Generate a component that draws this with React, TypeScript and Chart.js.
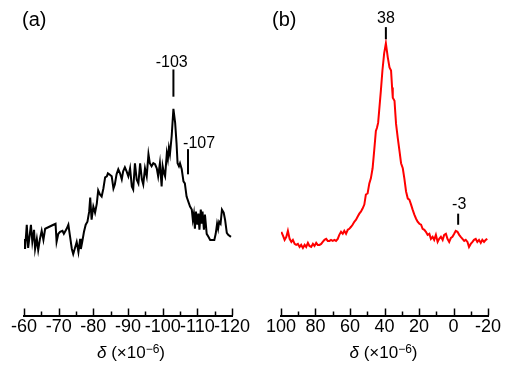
import React, { useEffect, useRef } from 'react';
import { Chart, registerables } from 'chart.js';

Chart.register(...registerables);

const FONT = "'Liberation Sans', Arial, sans-serif";

// Panel (a): chemical shift (×10^-6) and relative intensity
const deltaA = [
  -60.1, -60.3, -60.8, -61.2, -62.0, -62.4, -62.9, -63.2, -63.7, -64.1,
  -64.6, -65.1, -65.6, -66.1, -68.5, -69.1, -69.4, -69.9, -70.4, -71.1,
  -71.5, -72.3, -72.8, -73.3, -73.8, -74.2, -74.7, -75.2, -75.7, -76.2,
  -76.4, -76.8, -77.3, -77.8, -78.3, -78.8, -79.1, -79.5, -80.0, -80.5,
  -81.0, -81.4, -81.9, -82.4, -82.9, -83.4, -83.9, -84.2, -84.6, -85.3,
  -85.8, -86.2, -86.7, -87.2, -87.7, -88.2, -88.6, -89.1, -89.6, -90.1,
  -90.6, -91.1, -91.5, -92.0, -92.5, -93.0, -93.5, -94.0, -94.4, -94.9,
  -95.4, -95.9, -96.3, -96.8, -97.3, -97.8, -98.3, -98.7, -99.2, -99.7,
  -100.0, -100.4, -100.7, -101.2, -101.5, -101.8, -102.1, -102.6, -103.1, -103.6,
  -104.0, -104.3, -104.7, -105.0, -105.5, -106.0, -106.4, -106.9, -107.4, -107.9,
  -108.4, -108.7, -109.0, -109.3, -109.6, -110.0, -110.3, -110.6, -111.0, -111.3,
  -111.5, -111.9, -112.2, -112.7, -113.2, -113.7, -114.3, -114.9, -115.3, -115.7,
  -116.0, -116.3, -116.7, -117.1, -117.6, -118.0, -118.5, -118.9, -119.7,
];
const intensityA = [
  76, 66, 90, 67, 90, 73, 85, 66, 76, 65,
  76, 84, 75, 86, 90, 91, 73, 81, 83, 84,
  81, 86, 90, 78, 66, 61, 67, 73, 63, 76,
  66, 73, 83, 90, 93, 103, 117, 95, 108, 102,
  111, 124, 120, 118, 126, 137, 138, 141, 140, 138,
  126, 130, 140, 145, 141, 135, 143, 147, 143, 138,
  146, 128, 125, 151, 135, 131, 151, 135, 130, 146,
  138, 160, 151, 148, 151, 150, 146, 138, 151, 128,
  148, 141, 138, 161, 155, 166, 160, 178, 205, 191,
  171, 151, 148, 151, 145, 133, 131, 118, 113, 108,
  105, 95, 101, 86, 103, 90, 101, 85, 105, 91,
  103, 85, 100, 81, 78, 75, 75, 75, 81, 91,
  86, 93, 91, 105, 102, 95, 82, 80, 78,
];

// Panel (b)
const deltaB = [
  99.8, 98.8, 97.9, 96.9, 96.0, 95.0, 94.0, 93.1, 92.1, 91.2,
  90.2, 89.2, 88.3, 87.3, 86.3, 85.4, 84.4, 83.5, 82.5, 81.5,
  80.6, 79.6, 78.7, 77.7, 76.7, 75.8, 74.8, 73.8, 72.9, 71.9,
  71.0, 70.0, 69.0, 68.1, 67.1, 66.2, 65.2, 64.2, 63.3, 62.3,
  61.3, 60.4, 59.4, 58.5, 57.5, 56.5, 55.6, 54.6, 53.7, 52.7,
  51.7, 50.8, 49.8, 48.8, 47.9, 46.9, 46.0, 45.0, 44.4, 43.7,
  43.1, 42.1, 41.2, 40.2, 39.2, 38.1, 37.1, 36.2, 35.6, 35.2,
  34.2, 33.7, 33.3, 32.3, 31.3, 30.4, 29.4, 28.5, 27.5, 26.5,
  25.6, 24.6, 23.7, 22.7, 21.7, 20.8, 19.8, 18.8, 17.9, 16.9,
  16.0, 15.0, 14.0, 13.1, 12.1, 11.2, 10.2, 9.2, 8.3, 7.3,
  6.3, 5.4, 4.4, 3.5, 2.5, 1.5, 0.6, -0.4, -1.3, -2.3,
  -3.3, -4.2, -5.2, -6.2, -7.1, -8.1, -9.0, -10.0, -11.0, -11.9,
  -12.9, -13.8, -14.8, -15.8, -16.7, -17.7, -18.7, -19.6,
];
const intensityB = [
  83, 79, 75, 78, 84, 76, 73, 75, 71, 70,
  71, 68, 70, 67, 70, 68, 72, 69, 68, 71,
  69, 72, 70, 70, 71, 73, 75, 76, 74, 74,
  75, 74, 75, 74, 76, 80, 83, 81, 84, 81,
  85, 86, 88, 90, 93, 95, 98, 101, 103, 106,
  110, 120, 121, 131, 136, 146, 163, 183, 186, 191,
  203, 223, 243, 260, 270, 256, 246, 243, 226, 216,
  213, 200, 190, 176, 163, 151, 146, 136, 123, 116,
  115, 110, 105, 100, 96, 93, 91, 90, 86, 85,
  83, 80, 81, 76, 78, 75, 80, 73, 76, 78,
  75, 80, 81, 76, 73, 77, 78, 81, 84, 83,
  80, 78, 76, 74, 75, 73, 68, 71, 73, 75,
  76, 73, 75, 72, 75, 73, 75, 76,
];

// Axis ranges and tick labels
const axisA = { min: -120, max: -60, step: 5, labelEvery: 10 };
const axisB = { min: -20, max: 100, step: 10, labelEvery: 20 };

// Peak annotations: label, shift position
const peaksA = [
  { label: '-103', at: -103.1, textAt: -102.6, align: 'center', lineTop: 244, lineBottom: 217, textBase: 246 },
  { label: '-107', at: -107.3, textAt: -105.9, align: 'left', lineTop: 165, lineBottom: 140, textBase: 166 },
];
const peaksB = [
  { label: '38', at: 39.2, textAt: 39.2, align: 'center', lineTop: 286, lineBottom: 274, textBase: 290 },
  { label: '-3', at: -2.7, textAt: -3.3, align: 'center', lineTop: 101, lineBottom: 90, textBase: 106 },
];

function makeDecor(panel: string, peaks: any[], labelEvery: number, titleShift: number) {
  return {
    id: 'decor' + panel,
    afterDraw(chart: any) {
      const ctx = chart.ctx;
      const xs = chart.scales.x;
      const ys = chart.scales.y;
      const bottom = chart.chartArea.bottom;
      ctx.save();
      // upward tick marks
      ctx.strokeStyle = '#000';
      ctx.lineWidth = 1.5;
      xs.ticks.forEach((t: any) => {
        const px = Math.round(xs.getPixelForValue(t.value)) + 0.5;
        const major = Math.abs(t.value % labelEvery) < 1e-6;
        ctx.beginPath();
        ctx.moveTo(px, bottom);
        ctx.lineTo(px, bottom - (major ? 7 : 4));
        ctx.stroke();
      });
      // peak annotations
      ctx.fillStyle = '#000';
      ctx.font = `16px ${FONT}`;
      ctx.textBaseline = 'alphabetic';
      peaks.forEach((p) => {
        const x = xs.getPixelForValue(p.at);
        ctx.lineWidth = 2;
        ctx.beginPath();
        ctx.moveTo(x, ys.getPixelForValue(p.lineTop));
        ctx.lineTo(x, ys.getPixelForValue(p.lineBottom));
        ctx.stroke();
        ctx.textAlign = p.align;
        ctx.fillText(p.label, xs.getPixelForValue(p.textAt), ys.getPixelForValue(p.textBase));
      });
      // axis title: δ (×10^-6)
      const cx = (chart.chartArea.left + chart.chartArea.right) / 2 + titleShift;
      const base = bottom + 42;
      const parts = [
        { t: 'δ', f: `italic 17px ${FONT}`, dy: 0 },
        { t: ' (×10', f: `17px ${FONT}`, dy: 0 },
        { t: '−6', f: `12px ${FONT}`, dy: -5 },
        { t: ')', f: `17px ${FONT}`, dy: 0 },
      ];
      let total = 0;
      parts.forEach((p) => { ctx.font = p.f; total += ctx.measureText(p.t).width; });
      let x = cx - total / 2;
      ctx.textAlign = 'left';
      parts.forEach((p) => {
        ctx.font = p.f;
        ctx.fillText(p.t, x, base + p.dy);
        x += ctx.measureText(p.t).width;
      });
      // panel label
      ctx.font = `20px ${FONT}`;
      ctx.fillText(panel, panel === '(a)' ? 22 : 19, 26);
      ctx.restore();
    },
  };
}

function Panel(props: {
  width: number; left: number; xs: number[]; ys: number[]; color: string;
  axis: { min: number; max: number; step: number; labelEvery: number };
  pad: { left: number; right: number }; peaks: any[]; name: string; titleShift: number;
}) {
  const ref = useRef<HTMLCanvasElement>(null);
  useEffect(() => {
    const canvas = ref.current;
    if (!canvas) return;
    const { axis } = props;
    const chart = new Chart(canvas, {
      type: 'line',
      data: {
        datasets: [{
          data: props.xs.map((x, i) => ({ x, y: props.ys[i] })),
          borderColor: props.color,
          borderWidth: 2,
          pointRadius: 0,
          tension: 0,
          fill: false,
        }],
      },
      options: {
        animation: false,
        responsive: false,
        devicePixelRatio: 1,
        events: [],
        layout: { padding: { left: props.pad.left, right: props.pad.right, top: 13, bottom: 25.9 } },
        plugins: { legend: { display: false }, tooltip: { enabled: false }, title: { display: false } },
        scales: {
          x: {
            type: 'linear',
            min: axis.min,
            max: axis.max,
            reverse: true,
            grid: { display: false, drawTicks: false },
            border: { display: true, color: '#000', width: 2 },
            ticks: {
              stepSize: axis.step,
              autoSkip: false,
              maxRotation: 0,
              minRotation: 0,
              padding: 1,
              color: '#000',
              font: { family: FONT, size: 18 },
              callback: (v: any) => (Math.abs(Number(v) % axis.labelEvery) < 1e-6 ? String(v) : ''),
            },
          },
          y: { type: 'linear', display: false, min: 0, max: 300 },
        },
      },
      plugins: [makeDecor(props.name, props.peaks, axis.labelEvery, props.titleShift)],
    } as any);
    return () => chart.destroy();
  }, []);
  return (
    <canvas
      ref={ref}
      width={props.width}
      height={365}
      style={{ position: 'absolute', left: props.left, top: 0, width: props.width, height: 365 }}
    />
  );
}

export default function App() {
  return (
    <div style={{ position: 'absolute', left: 0, top: 0, width: 507, height: 365, background: '#fff', overflow: 'hidden' }}>
      <Panel width={253} left={0} xs={deltaA} ys={intensityA} color="#000" axis={axisA}
        pad={{ left: 24, right: 21 }} peaks={peaksA} name="(a)" titleShift={3} />
      <Panel width={254} left={253} xs={deltaB} ys={intensityB} color="#ff0000" axis={axisB}
        pad={{ left: 28, right: 19 }} peaks={peaksB} name="(b)" titleShift={-1} />
    </div>
  );
}
